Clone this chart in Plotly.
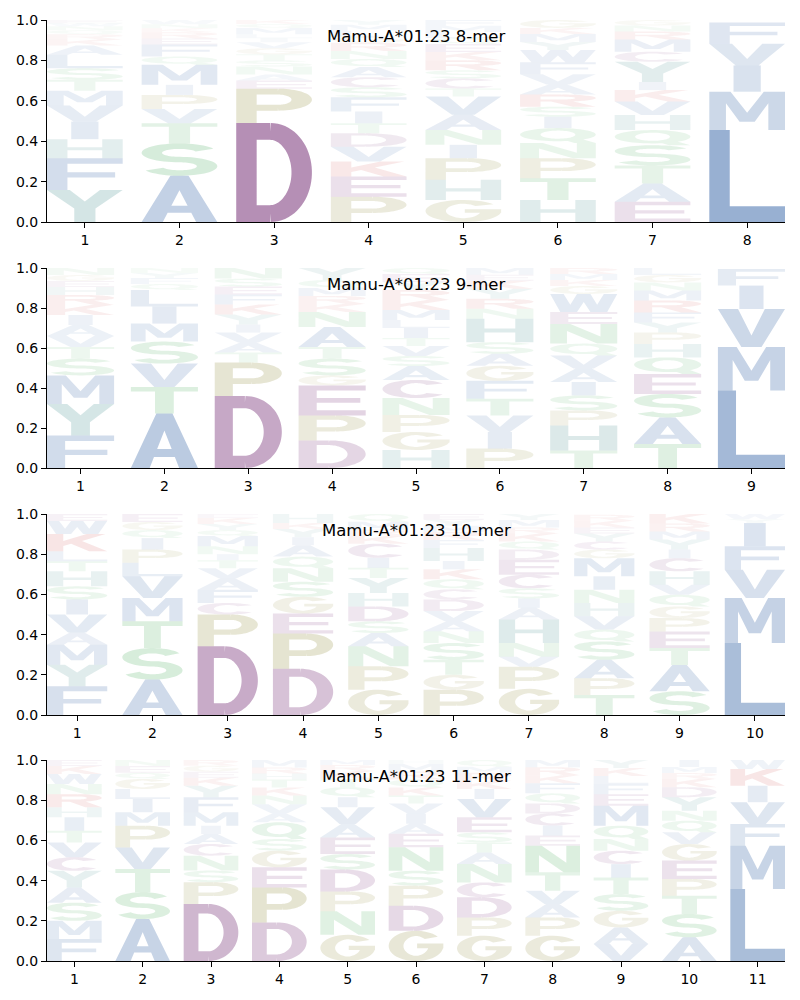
import numpy as np
import plotly.graph_objects as go

# ---------------- data (letters bottom -> top, heights = probability) ----------------
ALLELE = "Mamu-A*01:23"
LENGTHS = [8, 9, 10, 11]

LETTERS_8MER = [
    "YFHIVMTSLAKRQNWE", "ASTVPIMQFERKNW", "DPEANSTGVILMQK", "PEKVDTIFSCAQNRGLMY",
    "GHPINAVTCSRKEQLMF", "HTPNQISRAVFWYMKG", "EATSQHVKIYCMRNG", "LMIVF",
]
HEIGHTS_8MER = [
    [.158, .157, .095, .087, .08, .073, .054, .057, .067, .046, .03, .025, .02, .02, .015, .016],
    [.229, .16, .1, .07, .07, .05, .1, .04, .06, .03, .03, .02, .02, .021],
    [.49, .17, .04, .03, .04, .03, .03, .03, .03, .02, .02, .03, .02, .02],
    [.125, .1, .075, .073, .066, .05, .058, .07, .05, .05, .05, .04, .04, .04, .03, .03, .03, .023],
    [.109, .1, .107, .066, .074, .075, .09, .04, .05, .04, .05, .04, .04, .03, .03, .03, .029],
    [.109, .107, .1, .075, .074, .056, .05, .06, .05, .05, .06, .06, .04, .04, .03, .039],
    [.1, .09, .09, .1, .075, .075, .066, .057, .04, .1, .05, .06, .04, .03, .027],
    [.455, .19, .13, .108, .105],
]

LETTERS_9MER = [
    "FYMSTVAIKRHEGN", "ATVSMILQFYN", "DPTAVIYKFESN", "DPEGSTANKRMQY",
    "HGPNCASVTILMKRYEQ", "PIVTFGASHNRYKEM", "THPSIAVQNEWGKMR", "TASEQHPYFRMNGL", "LMVIF",
]
HEIGHTS_9MER = [
    [.163, .157, .143, .084, .058, .055, .055, .05, .05, .05, .04, .03, .03, .035],
    [.272, .133, .117, .11, .09, .085, .083, .03, .03, .025, .025],
    [.36, .167, .05, .05, .05, .04, .05, .05, .05, .04, .04, .053],
    [.138, .125, .15, .05, .084, .058, .1, .075, .04, .04, .04, .04, .06],
    [.09, .09, .085, .085, .09, .07, .05, .05, .04, .05, .04, .05, .05, .05, .04, .04, .03],
    [.097, .083, .083, .083, .09, .075, .06, .058, .117, .05, .05, .05, .04, .03, .034],
    [.088, .125, .075, .075, .067, .067, .066, .059, .098, .06, .09, .04, .03, .03, .03],
    [.12, .133, .117, .1, .083, .067, .058, .05, .05, .06, .05, .04, .037, .035],
    [.388, .217, .19, .117, .083],
]

LETTERS_10MER = [
    "FYMAVISHTLKWE", "ASTMVLPIQGE", "DPCFAVTINMQYKE", "DPEGSNQAIYKH",
    "GPNASDHYTICKRMQ", "PGTSNAVDCQKIHFRMYE", "GPVNHAISCEDQKRMY", "TPASQVHNIMGCYEKR",
    "SATEPGQVHCIYMRK", "LMVFIYW",
]
HEIGHTS_10MER = [
    [.143, .107, .1, .06, .09, .075, .065, .075, .05, .05, .085, .065, .035],
    [.176, .157, .133, .116, .108, .067, .066, .057, .04, .04, .04],
    [.342, .158, .057, .066, .057, .05, .04, .03, .04, .05, .03, .03, .03, .02],
    [.23, .175, .1, .083, .075, .067, .058, .057, .04, .04, .03, .045],
    [.126, .116, .1, .066, .058, .074, .067, .075, .05, .05, .07, .04, .03, .04, .038],
    [.126, .074, .075, .083, .059, .05, .05, .058, .05, .05, .05, .041, .065, .04, .04, .03, .03, .029],
    [.13, .11, .05, .068, .117, .058, .047, .05, .068, .075, .05, .04, .04, .03, .037, .03],
    [.1, .083, .092, .091, .059, .066, .066, .066, .067, .09, .043, .04, .04, .03, .033, .03],
    [.118, .131, .084, .082, .067, .058, .058, .05, .067, .065, .043, .05, .04, .04, .047],
    [.358, .224, .141, .117, .115, .02, .025],
]

LETTERS_11MER = [
    "FMSAYCVTIHRNWKE", "ASTVPMILGQEN", "DPSNCAIMFYKEGR", "DPEGSQAVNKTHRM",
    "GNPDSEAVIQTKRM", "GDPSNEAIVTKQRMH", "GPDCNATSEVIKRMQ", "GPAVTNEICDQFKRM",
    "VAGSTICNQMEFLKY", "ASTPEGVQNYDKRMI", "LMFVIKW",
]
HEIGHTS_11MER = [
    [.11, .09, .09, .076, .083, .067, .074, .058, .067, .05, .065, .05, .05, .04, .03],
    [.209, .133, .116, .107, .108, .067, .066, .05, .05, .03, .034, .03],
    [.284, .108, .058, .074, .058, .05, .041, .067, .075, .057, .04, .03, .03, .028],
    [.192, .174, .1, .083, .058, .083, .045, .045, .043, .04, .04, .03, .03, .037],
    [.13, .117, .099, .109, .077, .083, .067, .083, .05, .05, .04, .04, .03, .025],
    [.15, .125, .1, .074, .117, .067, .05, .05, .05, .04, .04, .04, .04, .037, .02],
    [.126, .091, .1, .074, .092, .057, .05, .05, .075, .091, .05, .04, .04, .03, .034],
    [.126, .091, .066, .067, .091, .133, .05, .05, .06, .05, .05, .05, .04, .04, .036],
    [.085, .082, .083, .083, .082, .067, .067, .058, .066, .1, .057, .05, .04, .04, .04],
    [.118, .116, .091, .083, .092, .082, .058, .058, .05, .067, .05, .04, .03, .03, .035],
    [.358, .216, .108, .108, .082, .083, .045],
]

PANELS = [
    (LETTERS_8MER, HEIGHTS_8MER),
    (LETTERS_9MER, HEIGHTS_9MER),
    (LETTERS_10MER, HEIGHTS_10MER),
    (LETTERS_11MER, HEIGHTS_11MER),
]

# ---------------- style ----------------
BLUE, PURPLE, GREEN = (40, 90, 160), (110, 35, 110), (60, 165, 80)
OLIVE, TEAL, RED = (140, 135, 50), (50, 130, 130), (200, 50, 50)
LETTER_COLOR = {}
for c in "AVLIMFW":
    LETTER_COLOR[c] = BLUE
for c in "DEC":
    LETTER_COLOR[c] = PURPLE
for c in "STNQ":
    LETTER_COLOR[c] = GREEN
for c in "GP":
    LETTER_COLOR[c] = OLIVE
for c in "HY":
    LETTER_COLOR[c] = TEAL
for c in "KR":
    LETTER_COLOR[c] = RED

BOX_W = 0.8
TX, TY = 0.27, 0.17  # glyph stem widths inside the unit box


# ---------------- glyph outlines in a unit box ----------------
def arc(cx, cy, rx, ry, a0, a1, n=40):
    t = np.radians(np.linspace(a0, a1, n))
    return np.column_stack([cx + rx * np.cos(t), cy + ry * np.sin(t)])


def stroke(pts, tx=TX, ty=TY):
    s = np.asarray(pts, float) / [tx, ty]
    d = np.gradient(s, axis=0)
    nrm = np.column_stack([-d[:, 1], d[:, 0]])
    nrm /= np.linalg.norm(nrm, axis=1)[:, None]
    left = (s + 0.5 * nrm) * [tx, ty]
    right = (s - 0.5 * nrm) * [tx, ty]
    return np.vstack([left, right[::-1]])


def rect(x0, y0, x1, y1):
    return np.array([(x0, y0), (x1, y0), (x1, y1), (x0, y1)], float)


def P(*pts):
    return np.array(pts, float)


def ring(cx, cy, rx, ry):
    outer = arc(cx, cy, rx + TX / 2, ry + TY / 2, 0, 360, 60)[:-1]
    inner = arc(cx, cy, rx - TX / 2, ry - TY / 2, 360, 0, 60)[:-1]
    return [(outer, False), (inner, True)]


def glyph(ch):
    solid = []
    extra = []
    rx, ry = 0.5 - TX / 2, 0.5 - TY / 2
    if ch == "A":
        solid = [P((0, 0), (0.28, 0), (0.6, 1), (0.38, 1)),
                 P((0.72, 0), (1, 0), (0.62, 1), (0.4, 1)),
                 rect(0.2, 0.2, 0.8, 0.35)]
    elif ch == "C":
        solid = [stroke(arc(0.5, 0.5, rx, ry, 40, 320))]
    elif ch == "D":
        solid = [rect(0, 0, TX, 1), rect(0, 0, 0.45, TY), rect(0, 1 - TY, 0.45, 1),
                 stroke(arc(0.45, 0.5, 0.55 - TX / 2, ry, -90, 90))]
    elif ch == "E":
        solid = [P((0, 0), (1, 0), (1, TY), (TX, TY), (TX, 0.42), (0.92, 0.42), (0.92, 0.58),
                   (TX, 0.58), (TX, 1 - TY), (1, 1 - TY), (1, 1), (0, 1))]
    elif ch == "F":
        solid = [P((0, 0), (TX, 0), (TX, 0.4), (0.9, 0.4), (0.9, 0.56), (TX, 0.56),
                   (TX, 1 - TY), (1, 1 - TY), (1, 1), (0, 1))]
    elif ch == "G":
        solid = [stroke(arc(0.5, 0.5, rx, ry, 40, 360)), rect(0.52, 0.42, 1, 0.58)]
    elif ch == "H":
        solid = [P((0, 0), (TX, 0), (TX, 0.42), (1 - TX, 0.42), (1 - TX, 0), (1, 0), (1, 1),
                   (1 - TX, 1), (1 - TX, 0.58), (TX, 0.58), (TX, 1), (0, 1))]
    elif ch == "I":
        solid = [rect(0.32, 0, 0.68, 1)]
    elif ch == "K":
        solid = [P((0, 0), (0.27, 0), (0.27, 0.3), (0.4, 0.44), (0.7, 0), (1, 0), (0.58, 0.6),
                   (0.97, 1), (0.66, 1), (0.27, 0.6), (0.27, 1), (0, 1))]
    elif ch == "L":
        solid = [P((0, 0), (1, 0), (1, TY), (TX, TY), (TX, 1), (0, 1))]
    elif ch == "M":
        solid = [P((0, 0), (0.22, 0), (0.22, 0.7), (0.4, 0.22), (0.6, 0.22), (0.78, 0.7),
                   (0.78, 0), (1, 0), (1, 1), (0.72, 1), (0.5, 0.45), (0.28, 1), (0, 1))]
    elif ch == "N":
        solid = [P((0, 0), (0.25, 0), (0.25, 0.64), (0.7, 0), (1, 0), (1, 1), (0.75, 1),
                   (0.75, 0.36), (0.3, 1), (0, 1))]
    elif ch == "P":
        solid = [rect(0, 0, TX, 1), rect(0, 1 - TY, 0.55, 1), rect(0, 0.36, 0.55, 0.36 + TY),
                 stroke(arc(0.55, 0.68, 0.45 - TX / 2, 0.32 - TY / 2, -90, 90))]
    elif ch == "Q":
        extra = ring(0.5, 0.56, 0.5 - TX / 2, 0.44 - TY / 2)
        solid = [P((0.55, 0.25), (0.72, 0.0), (1, 0), (0.8, 0.28))]
    elif ch == "R":
        solid = [rect(0, 0, TX, 1), rect(0, 1 - TY, 0.55, 1), rect(0, 0.42, 0.55, 0.42 + TY),
                 stroke(arc(0.55, 0.71, 0.45 - TX / 2, 0.29 - TY / 2, -90, 90)),
                 P((0.7, 0), (1, 0), (0.68, 0.47), (0.38, 0.47))]
    elif ch == "S":
        cyu, cyl, r2 = 0.7075, 0.2925, 0.2075
        up = arc(0.5, cyu, rx, r2, 25, 270)
        lo = arc(0.5, cyl, rx, r2, 90, -155)[1:]
        solid = [stroke(np.vstack([up, lo]))]
    elif ch == "T":
        solid = [P((0.36, 0), (0.64, 0), (0.64, 1 - TY), (1, 1 - TY), (1, 1), (0, 1),
                   (0, 1 - TY), (0.36, 1 - TY))]
    elif ch == "V":
        solid = [P((0, 1), (0.3, 1), (0.5, 0.3), (0.7, 1), (1, 1), (0.65, 0), (0.35, 0))]
    elif ch == "W":
        solid = [P((0, 1), (0.2, 1), (0.3, 0.4), (0.4, 1), (0.6, 1), (0.7, 0.4), (0.8, 1),
                   (1, 1), (0.85, 0), (0.6, 0), (0.5, 0.55), (0.4, 0), (0.15, 0))]
    elif ch == "Y":
        solid = [P((0.36, 0), (0.64, 0), (0.64, 0.42), (1, 1), (0.7, 1), (0.5, 0.64),
                   (0.3, 1), (0, 1), (0.36, 0.42))]
    parts = [(p, False) for p in solid] + extra
    out = []
    for poly, hole in parts:
        x, y = poly[:, 0], poly[:, 1]
        area = 0.5 * np.sum(x * np.roll(y, -1) - np.roll(x, -1) * y)
        if not hole and area < 0:
            poly = poly[::-1]
        out.append(poly)
    return out


GLYPHS = {c: glyph(c) for c in LETTER_COLOR}


def glyph_path(ch, pos, y0, h):
    segs = []
    for poly in GLYPHS[ch]:
        xs = pos - BOX_W / 2 + BOX_W * poly[:, 0]
        ys = y0 + h * poly[:, 1]
        pts = ["%s%.4f,%.4f" % ("M" if i == 0 else "L", a, b) for i, (a, b) in enumerate(zip(xs, ys))]
        segs.append(" ".join(pts) + " Z")
    return " ".join(segs)


def alpha_for(h):
    return float(np.clip(0.9 * h ** 0.8, 0.03, 0.6))


# ---------------- figure ----------------
fig = go.Figure()
L_M, R_M, T_M, B_M = 47, 15, 20, 39
H_TOT = 1000
panel_px = [(20, 222), (268, 468), (514, 715), (760, 961)]
plot_h = H_TOT - T_M - B_M

shapes = []
annotations = []
layout = {}
font_fam = "DejaVu Sans"
for i, ((letters, heights), n) in enumerate(zip(PANELS, LENGTHS)):
    k = "" if i == 0 else str(i + 1)
    xref, yref = "x" + k, "y" + k
    top, bot = panel_px[i]
    dom = [(H_TOT - B_M - bot) / plot_h, (H_TOT - B_M - top) / plot_h]
    positions = list(range(1, n + 1))
    fig.add_trace(go.Scatter(x=positions, y=[0] * n, mode="markers", marker=dict(opacity=0),
                             hoverinfo="skip", showlegend=False, xaxis=xref, yaxis=yref))
    for pos, col_letters, col_heights in zip(positions, letters, heights):
        y0 = 0.0
        for ch, h in zip(col_letters, col_heights):
            r, g, b = LETTER_COLOR[ch]
            shapes.append(dict(type="path", xref=xref, yref=yref, layer="below",
                               path=glyph_path(ch, pos, y0, h), fillrule="nonzero",
                               fillcolor="rgba(%d,%d,%d,%.3f)" % (r, g, b, alpha_for(h)),
                               line=dict(width=0)))
            y0 += h
    axis_common = dict(showline=True, linecolor="black", linewidth=1.1, ticks="outside",
                       ticklen=5, tickwidth=1.1, tickcolor="black", showgrid=False,
                       zeroline=False, automargin=False,
                       tickfont=dict(family=font_fam, size=14, color="black"))
    layout["xaxis" + k] = dict(axis_common, range=[0.6, n + 0.4], tickvals=positions,
                               ticktext=[str(p) for p in positions], domain=[0, 1],
                               anchor=yref, fixedrange=True)
    layout["yaxis" + k] = dict(axis_common, range=[0, 1], tickvals=[0, 0.2, 0.4, 0.6, 0.8, 1.0],
                               ticktext=["0.0", "0.2", "0.4", "0.6", "0.8", "1.0"],
                               domain=dom, anchor=xref, fixedrange=True)
    annotations.append(dict(text="%s %d-mer" % (ALLELE, n), xref=xref + " domain",
                            yref=yref + " domain", x=0.5, y=0.92, xanchor="center",
                            yanchor="middle", showarrow=False,
                            font=dict(family=font_fam, size=16.5, color="black")))

fig.update_layout(**layout)
fig.update_layout(width=800, height=1000, margin=dict(l=L_M, r=R_M, t=T_M, b=B_M, autoexpand=False),
                  plot_bgcolor="white", paper_bgcolor="white", shapes=shapes,
                  annotations=annotations, showlegend=False)
fig.write_html("out.html", config={"displayModeBar": False},
               post_script="document.body.style.margin='0';document.body.style.overflow='hidden';")
